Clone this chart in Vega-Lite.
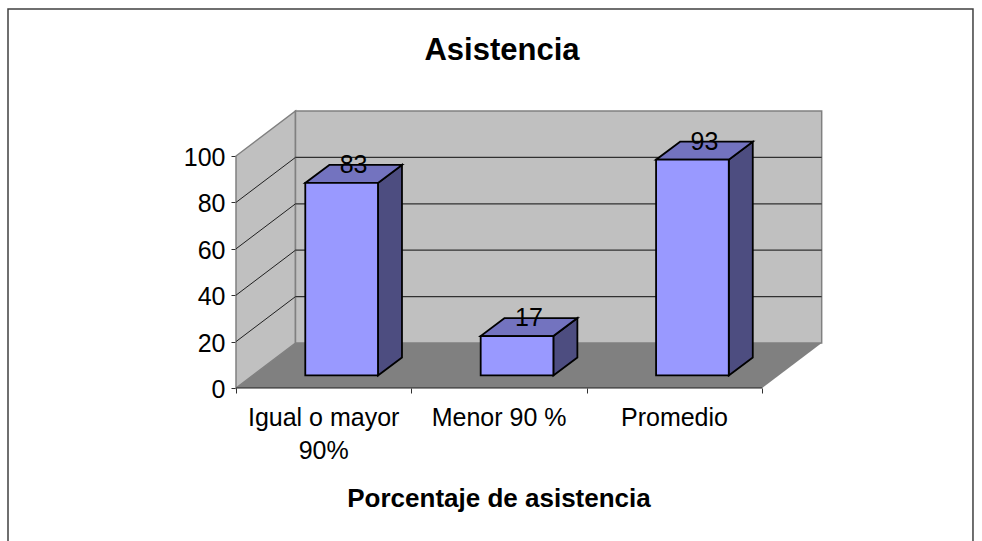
{"$schema":"https://vega.github.io/schema/vega-lite/v6.json","width":586,"height":277,"autosize":{"type":"none"},"padding":{"left":236,"top":111,"right":160,"bottom":153},"background":"white","title":{"text":"Asistencia","font":"Liberation Sans","fontSize":31,"fontWeight":"bold","color":"black","anchor":"middle","dx":-27,"dy":59,"offset":0},"config":{"view":{"stroke":null},"font":"Liberation Sans"},"datasets":{"asistencia":[{"categoria":"Igual o mayor\n90%","indice":0,"valor":83},{"categoria":"Menor 90 %","indice":1,"valor":17},{"categoria":"Promedio","indice":2,"valor":93}],"profundidad":[{"prof":0},{"prof":1}],"niveles":[{"nivel":20},{"nivel":40},{"nivel":60},{"nivel":80}],"marco":[{"marco":1}]},"layer":[{"data":{"name":"marco"},"transform":[{"calculate":"-1.2999","as":"x"},{"calculate":"4.2018","as":"x2"},{"calculate":"-100","as":"y"},{"calculate":"163.4","as":"y2"}],"mark":{"type":"rect","fillOpacity":0,"stroke":"#404040","strokeWidth":1.5},"encoding":{"x":{"field":"x","type":"quantitative","scale":{"domain":[0,3.341],"nice":false,"zero":false},"axis":{"values":[0,1,2,3],"labels":false,"domain":false,"grid":false,"ticks":true,"tickSize":5,"tickColor":"#303030","tickWidth":1,"title":"Porcentaje de asistencia","titleFont":"Liberation Sans","titleFontSize":26,"titleFontWeight":"bold","titleColor":"black","titleX":262.5,"titleY":118,"titleAnchor":"middle","titleAlign":"center","titleBaseline":"alphabetic"}},"x2":{"field":"x2"},"y":{"field":"y","type":"quantitative","scale":{"domain":[0,119.4],"nice":false,"zero":false},"axis":{"values":[0,20,40,60,80,100],"domain":false,"grid":false,"tickSize":5,"tickColor":"#303030","tickWidth":1,"labelFont":"Liberation Sans","labelFontSize":25,"labelColor":"black","labelPadding":6,"labelOffset":1.5,"title":null}},"y2":{"field":"y2"}}},{"data":{"name":"profundidad"},"transform":[{"calculate":"datum.prof*0.3392","as":"x"},{"calculate":"datum.prof*19.4","as":"y"},{"calculate":"100+datum.prof*19.4","as":"y2"}],"mark":{"type":"area","fill":"#C0C0C0","stroke":"#808080","strokeWidth":1.5},"encoding":{"x":{"field":"x","type":"quantitative"},"y":{"field":"y","type":"quantitative"},"y2":{"field":"y2"}}},{"data":{"name":"marco"},"transform":[{"calculate":"0.3392","as":"x"},{"calculate":"3.3392","as":"x2"},{"calculate":"19.4","as":"y"},{"calculate":"119.4","as":"y2"}],"mark":{"type":"rect","fill":"#C0C0C0","stroke":"#808080","strokeWidth":1.5},"encoding":{"x":{"field":"x","type":"quantitative"},"x2":{"field":"x2"},"y":{"field":"y","type":"quantitative"},"y2":{"field":"y2"}}},{"data":{"name":"profundidad"},"transform":[{"calculate":"datum.prof*0.3392","as":"x"},{"calculate":"3+datum.prof*0.3392","as":"x2"},{"calculate":"datum.prof*19.4","as":"y"}],"mark":{"type":"area","orient":"horizontal","fill":"#808080"},"encoding":{"y":{"field":"y","type":"quantitative"},"x":{"field":"x","type":"quantitative"},"x2":{"field":"x2"}}},{"data":{"name":"niveles"},"transform":[{"calculate":"datum.nivel+19.4","as":"y"},{"calculate":"0.3392","as":"x"},{"calculate":"3.3392","as":"x2"}],"mark":{"type":"rule","color":"#303030","strokeWidth":1.2},"encoding":{"x":{"field":"x","type":"quantitative"},"x2":{"field":"x2"},"y":{"field":"y","type":"quantitative"}}},{"data":{"name":"niveles"},"transform":[{"calculate":"datum.nivel+19.4","as":"y2"},{"calculate":"0","as":"x"},{"calculate":"0.3392","as":"x2"}],"mark":{"type":"rule","color":"#202020","strokeWidth":1},"encoding":{"x":{"field":"x","type":"quantitative"},"x2":{"field":"x2"},"y":{"field":"nivel","type":"quantitative"},"y2":{"field":"y2"}}},{"data":{"name":"marco"},"transform":[{"calculate":"0","as":"x"},{"calculate":"3","as":"x2"},{"calculate":"0","as":"y"}],"mark":{"type":"rule","color":"#202020","strokeWidth":1.2},"encoding":{"x":{"field":"x","type":"quantitative"},"x2":{"field":"x2"},"y":{"field":"y","type":"quantitative"}}},{"data":{"name":"asistencia"},"transform":[{"calculate":"[0,1]","as":"prof"},{"flatten":["prof"]},{"calculate":"datum.indice+0.395+0.4145+datum.prof*0.1368","as":"x"},{"calculate":"5.4+datum.prof*7.76","as":"y"},{"calculate":"datum.valor+5.4+datum.prof*7.76","as":"y2"}],"mark":{"type":"area","fill":"#4D4D80","stroke":"black","strokeWidth":1.8},"encoding":{"detail":{"field":"indice","type":"nominal"},"x":{"field":"x","type":"quantitative"},"y":{"field":"y","type":"quantitative"},"y2":{"field":"y2"}}},{"data":{"name":"asistencia"},"transform":[{"calculate":"[0,1]","as":"prof"},{"flatten":["prof"]},{"calculate":"datum.indice+0.395+datum.prof*0.1368","as":"x"},{"calculate":"datum.indice+0.395+0.4145+datum.prof*0.1368","as":"x2"},{"calculate":"datum.valor+5.4+datum.prof*7.76","as":"y"}],"mark":{"type":"area","orient":"horizontal","fill":"#7373BF","stroke":"black","strokeWidth":1.8},"encoding":{"detail":{"field":"indice","type":"nominal"},"y":{"field":"y","type":"quantitative"},"x":{"field":"x","type":"quantitative"},"x2":{"field":"x2"}}},{"data":{"name":"asistencia"},"transform":[{"calculate":"datum.indice+0.395","as":"x"},{"calculate":"datum.indice+0.395+0.4145","as":"x2"},{"calculate":"5.4","as":"y"},{"calculate":"datum.valor+5.4","as":"y2"}],"mark":{"type":"rect","fill":"#9999FF","stroke":"black","strokeWidth":1.8},"encoding":{"x":{"field":"x","type":"quantitative"},"x2":{"field":"x2"},"y":{"field":"y","type":"quantitative"},"y2":{"field":"y2"}}},{"data":{"name":"asistencia"},"transform":[{"calculate":"datum.indice+0.395+0.2072+0.0684","as":"x"},{"calculate":"datum.valor+5.4+7.76","as":"y"}],"mark":{"type":"text","font":"Liberation Sans","fontSize":25,"color":"black","baseline":"middle","align":"center"},"encoding":{"x":{"field":"x","type":"quantitative"},"y":{"field":"y","type":"quantitative"},"text":{"field":"valor","type":"quantitative"}}},{"data":{"name":"asistencia"},"transform":[{"calculate":"datum.indice+0.5","as":"x"},{"calculate":"0","as":"y"}],"mark":{"type":"text","font":"Liberation Sans","fontSize":25,"color":"black","baseline":"top","align":"center","lineBreak":"\n","lineHeight":33,"dy":18},"encoding":{"x":{"field":"x","type":"quantitative"},"y":{"field":"y","type":"quantitative"},"text":{"field":"categoria","type":"nominal"}}}]}
